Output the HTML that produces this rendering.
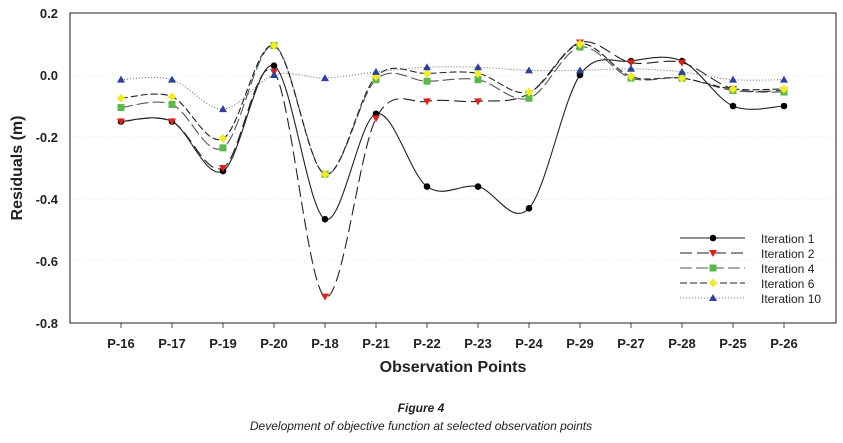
<!DOCTYPE html>
<html><head><meta charset="utf-8"><style>
body{margin:0;background:#fff;width:843px;height:438px;overflow:hidden}
svg text{font-family:"Liberation Sans",Arial,sans-serif}
</style></head><body>
<svg id="s" width="843" height="438" xmlns="http://www.w3.org/2000/svg">
<g font-weight="bold" font-size="13" fill="#222" text-anchor="end">
<text x="58" y="18">0.2</text><text x="58" y="80">0.0</text><text x="58" y="142">-0.2</text>
<text x="58" y="204">-0.4</text><text x="58" y="266">-0.6</text><text x="58" y="328">-0.8</text>
</g>
<g stroke="#ddd" stroke-dasharray="1,2" stroke-width="0.8">
<line x1="70" y1="75" x2="836" y2="75"/><line x1="70" y1="137" x2="836" y2="137"/>
<line x1="70" y1="199" x2="836" y2="199"/><line x1="70" y1="261" x2="836" y2="261"/>
</g>
<rect x="70" y="13" width="766" height="310" fill="none" stroke="#444" stroke-width="1.2"/>
<g id="ticks"></g>
<g id="series"></g>
<text x="22" y="168" transform="rotate(-90 22 168)" text-anchor="middle" font-weight="bold" font-size="16" fill="#222">Residuals (m)</text>
<text x="453" y="372" text-anchor="middle" font-weight="bold" font-size="16" fill="#222">Observation Points</text>
<g font-size="12" fill="#222">
<text x="761" y="243">Iteration 1</text><text x="761" y="258">Iteration 2</text>
<text x="761" y="273">Iteration 4</text><text x="761" y="288">Iteration 6</text>
<text x="761" y="303">Iteration 10</text>
</g>
<g id="leg"></g>
<text x="421" y="412" text-anchor="middle" font-weight="bold" font-style="italic" font-size="12" fill="#222">Figure 4</text>
<text x="421" y="430" text-anchor="middle" font-style="italic" font-size="12" fill="#222">Development of objective function at selected observation points</text>
</svg>
<script>
var NS="http://www.w3.org/2000/svg";
var labels=["P-16","P-17","P-19","P-20","P-18","P-21","P-22","P-23","P-24","P-29","P-27","P-28","P-25","P-26"];
function X(i){return 121+i*51.0;}function Y(v){return 75-v*310;}
var t=document.getElementById("ticks"),h="";
labels.forEach(function(l,i){h+='<line x1="'+X(i)+'" y1="323" x2="'+X(i)+'" y2="328" stroke="#444"/>';
h+='<text x="'+X(i)+'" y="348" text-anchor="middle" font-weight="bold" font-size="13" fill="#222">'+l+'</text>';});
t.innerHTML=h;
var S=[
{d:[-0.15,-0.15,-0.31,0.03,-0.465,-0.125,-0.36,-0.36,-0.43,0.0,0.045,0.045,-0.10,-0.10],c:"#000",m:"o",da:"",sc:"#222"},
{d:[-0.15,-0.15,-0.30,0.01,-0.715,-0.14,-0.085,-0.085,-0.06,0.105,0.04,0.04,-0.045,-0.05],c:"#e0201c",m:"v",da:"12,5",sc:"#222"},
{d:[-0.105,-0.095,-0.235,0.095,-0.32,-0.015,-0.02,-0.015,-0.075,0.09,-0.01,-0.01,-0.05,-0.055],c:"#5cb848",m:"s",da:"12,4",sc:"#555"},
{d:[-0.075,-0.07,-0.205,0.095,-0.32,-0.005,0.005,0.005,-0.055,0.10,-0.005,-0.01,-0.045,-0.045],c:"#f2ec1e",m:"d",da:"7,3",sc:"#222"},
{d:[-0.015,-0.015,-0.11,0.0,-0.01,0.01,0.025,0.025,0.015,0.015,0.02,0.01,-0.015,-0.015],c:"#2f3fa0",m:"^",da:"1,2",sc:"#777"}];
function mark(m,x,y,c){
if(m=="o")return '<circle cx="'+x+'" cy="'+y+'" r="3.3" fill="'+c+'"/>';
if(m=="v")return '<polygon points="'+(x-4)+','+(y-3)+' '+(x+4)+','+(y-3)+' '+x+','+(y+4)+'" fill="'+c+'"/>';
if(m=="s")return '<rect x="'+(x-3.5)+'" y="'+(y-3.5)+'" width="7" height="7" fill="'+c+'"/>';
if(m=="d")return '<polygon points="'+x+','+(y-4.5)+' '+(x+4)+','+y+' '+x+','+(y+4.5)+' '+(x-4)+','+y+'" fill="'+c+'"/>';
return '<polygon points="'+x+','+(y-4)+' '+(x+4)+','+(y+3)+' '+(x-4)+','+(y+3)+'" fill="'+c+'"/>';}
var g="",mk="";
S.forEach(function(s){var p=s.d.map(function(v,i){return[X(i),Y(v)];});
var d="M"+p[0][0]+","+p[0][1];
for(var i=0;i<p.length-1;i++){var p0=p[i-1]||p[i],p1=p[i],p2=p[i+1],p3=p[i+2]||p2;
d+=" C"+(p1[0]+(p2[0]-p0[0])/6)+","+(p1[1]+(p2[1]-p0[1])/6)+" "+(p2[0]-(p3[0]-p1[0])/6)+","+(p2[1]-(p3[1]-p1[1])/6)+" "+p2[0]+","+p2[1];}
g+='<path d="'+d+'" fill="none" stroke="'+s.sc+'" stroke-width="1.1"'+(s.da?' stroke-dasharray="'+s.da+'"':'')+'/>';
p.forEach(function(q){mk+=mark(s.m,q[0],q[1],s.c);});});
document.getElementById("series").innerHTML=g+mk;
var l="";S.forEach(function(s,i){var y=238+i*15;
l+='<line x1="680" y1="'+y+'" x2="745" y2="'+y+'" stroke="'+s.sc+'" stroke-width="1.1"'+(s.da?' stroke-dasharray="'+s.da+'"':'')+'/>'+mark(s.m,713,y,s.c);});
document.getElementById("leg").innerHTML=l;
</script>
</body></html>
